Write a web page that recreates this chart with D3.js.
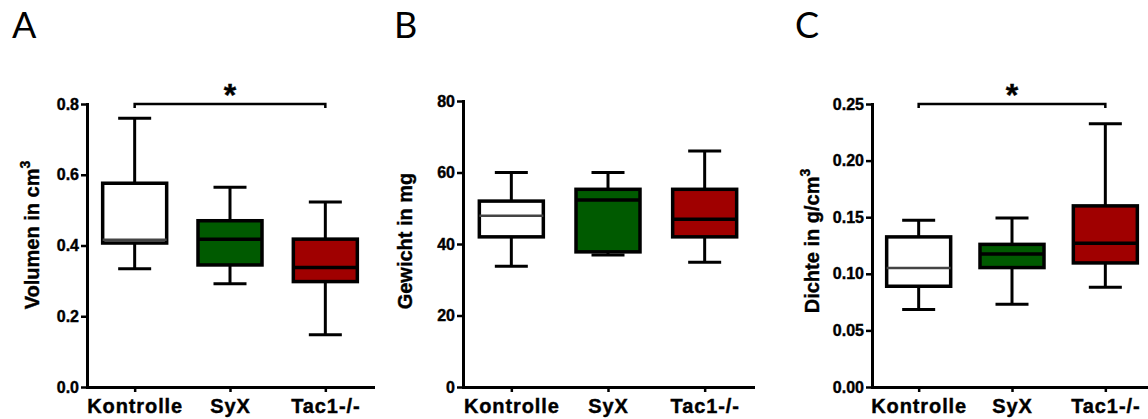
<!DOCTYPE html>
<html>
<head>
<meta charset="utf-8">
<script src="https://cdn.jsdelivr.net/npm/d3@7"></script>
<style>
  body { margin: 0; background: #fff; }
  text { font-family: "Liberation Sans", Arial, sans-serif; }
</style>
</head>
<body>
<svg id="chart" width="1148" height="419"></svg>
<script>
// groups on the x axis, same for all three panels
const groups = ['Kontrolle', 'SyX', 'Tac1-/-']
const fills = ['#ffffff', '#005a00', '#a00000']

// box stats per group: [lower whisker, q1, median, q3, upper whisker]
const volumeStats = [
  [0.334, 0.407, 0.416, 0.576, 0.760],
  [0.292, 0.345, 0.418, 0.470, 0.565],
  [0.148, 0.298, 0.338, 0.418, 0.523]
]
const weightStats = [
  [33.8, 42.0, 47.9, 52.0, 60.0],
  [36.9, 37.8, 52.3, 55.3, 60.0],
  [34.9, 42.0, 46.9, 55.3, 66.0]
]
const densityStats = [
  [0.0684, 0.0890, 0.1052, 0.1326, 0.1474],
  [0.0731, 0.1055, 0.1176, 0.1260, 0.1494],
  [0.0881, 0.1096, 0.1270, 0.1600, 0.2325]
]

// tick values for the y axes
const volumeTicks = [0, 0.2, 0.4, 0.6, 0.8]
const weightTicks = [0, 20, 40, 60, 80]
const densityTicks = [0, 0.05, 0.10, 0.15, 0.20, 0.25]

const svg = d3.select('#chart')
svg.append('rect').attr('width', 1148).attr('height', 419).attr('fill', '#fff')

// bold text a bit heavier, like the exported figure
function heavy(sel, size) {
  sel.style('font-size', size + 'px').style('font-weight', 'bold')
    .style('font-family', '"Liberation Sans", Arial, sans-serif')
    .attr('stroke', '#000').attr('stroke-width', 0.4)
}

// one panel = a small box plot
function drawPanel(opts) {
  const g = svg.append('g')
  const x = d3.scalePoint().domain(groups).range([opts.left, opts.right]).padding(0.5)
  const y = d3.scaleLinear().domain([0, opts.max]).range([387, opts.top])
  const boxW = 64
  const capW = 33

  // panel letter
  svg.append('text')
    .attr('x', opts.letterX).attr('y', 38)
    .style('font-family', 'Lato, "Open Sans", sans-serif')
    .style('font-size', '36px')
    .text(opts.letter)

  // y axis
  const yAxis = g.append('g')
    .attr('transform', 'translate(' + opts.left + ',0)')
    .call(d3.axisLeft(y).tickValues(opts.ticks).tickFormat(d3.format(opts.fmt)).tickSize(6).tickSizeOuter(0).tickPadding(2))
  yAxis.select('.domain').attr('stroke-width', 3).attr('stroke-linecap', 'square')
  yAxis.selectAll('.tick line').attr('stroke-width', 2.5)
  yAxis.selectAll('.tick text').call(heavy, 16)

  // x axis
  const xAxis = g.append('g')
    .attr('transform', 'translate(0,387)')
    .call(d3.axisBottom(x).tickSize(5).tickSizeOuter(0).tickPadding(7))
  xAxis.select('.domain').attr('stroke-width', 3).attr('stroke-linecap', 'square')
  xAxis.selectAll('.tick line').attr('stroke-width', 2.5)
  xAxis.selectAll('.tick text').call(heavy, 20).style('letter-spacing', '0.9px')

  // y axis title
  const title = g.append('text')
    .attr('transform', 'translate(' + opts.titleX + ',' + opts.titleY + ')rotate(-90)')
    .attr('text-anchor', 'middle')
    .call(heavy, 20)
  title.append('tspan').text(opts.title)
  if (opts.sup) {
    title.append('tspan').attr('dy', -9).style('font-size', '14px').text(opts.sup)
  }

  // boxes
  const boxes = g.selectAll('g.box')
    .data(opts.stats)
    .enter().append('g')
    .classed('box', true)
    .attr('transform', (d, i) => 'translate(' + x(groups[i]) + ',0)')

  boxes.append('line') // lower whisker
    .attr('x1', 0).attr('x2', 0)
    .attr('y1', d => y(d[0])).attr('y2', d => y(d[1]))
    .attr('stroke', '#000').attr('stroke-width', 3)
  boxes.append('line') // upper whisker
    .attr('x1', 0).attr('x2', 0)
    .attr('y1', d => y(d[3])).attr('y2', d => y(d[4]))
    .attr('stroke', '#000').attr('stroke-width', 3)
  boxes.append('line')
    .attr('x1', -capW / 2).attr('x2', capW / 2)
    .attr('y1', d => y(d[0])).attr('y2', d => y(d[0]))
    .attr('stroke', '#000').attr('stroke-width', 3)
  boxes.append('line')
    .attr('x1', -capW / 2).attr('x2', capW / 2)
    .attr('y1', d => y(d[4])).attr('y2', d => y(d[4]))
    .attr('stroke', '#000').attr('stroke-width', 3)
  boxes.append('rect')
    .attr('x', -boxW / 2).attr('width', boxW)
    .attr('y', d => y(d[3]))
    .attr('height', d => y(d[1]) - y(d[3]))
    .attr('fill', (d, i) => fills[i])
    .attr('stroke', '#000').attr('stroke-width', 3.5)
  boxes.append('line') // median
    .attr('x1', -boxW / 2).attr('x2', boxW / 2)
    .attr('y1', d => y(d[2])).attr('y2', d => y(d[2]))
    .attr('stroke', (d, i) => i === 0 ? '#444' : '#000')
    .attr('stroke-width', (d, i) => i === 0 ? 2.5 : 3.5)

  // significance bracket
  if (opts.sig) {
    const x1 = x(groups[0]), x2 = x(groups[2]), yy = y(opts.max)
    g.append('path')
      .attr('d', 'M' + x1 + ',' + (yy + 4) + 'V' + yy + 'H' + x2 + 'V' + (yy + 4))
      .attr('fill', 'none').attr('stroke', '#000').attr('stroke-width', 2.5)
    g.append('text')
      .attr('x', (x1 + x2) / 2).attr('y', yy + 2)
      .attr('text-anchor', 'middle')
      .call(heavy, 32)
      .text('*')
  }
}

drawPanel({ letter: 'A', letterX: 12, left: 87, right: 373, top: 104, max: 0.8,
  ticks: volumeTicks, fmt: '.1f', stats: volumeStats, title: 'Volumen in cm', sup: '3',
  titleX: 39, titleY: 235, sig: true })
drawPanel({ letter: 'B', letterX: 394, left: 463, right: 753, top: 101, max: 80,
  ticks: weightTicks, fmt: 'd', stats: weightStats, title: 'Gewicht in mg',
  titleX: 412, titleY: 241, sig: false })
drawPanel({ letter: 'C', letterX: 795, left: 872, right: 1152, top: 104, max: 0.25,
  ticks: densityTicks, fmt: '.2f', stats: densityStats, title: 'Dichte in g/cm', sup: '3',
  titleX: 819, titleY: 241, sig: true })
</script>
</body>
</html>
